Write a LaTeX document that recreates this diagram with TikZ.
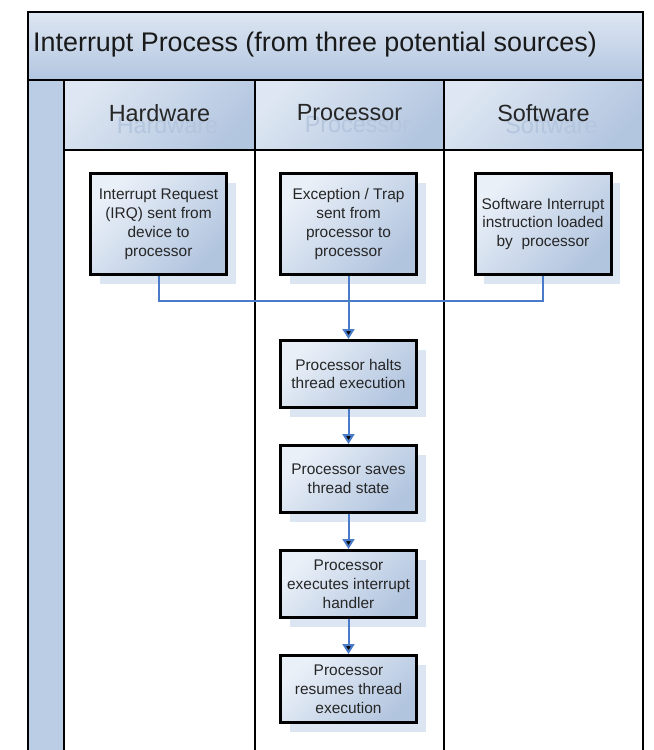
\documentclass[tikz,border=0pt]{standalone}
\usepackage{fontspec}
\setmainfont{Liberation Sans}
\usetikzlibrary{arrows,arrows.meta,positioning,shadows}

\definecolor{bandtop}{HTML}{DDE6F2}
\definecolor{bandbot}{HTML}{B3C6E0}
\definecolor{boxtop}{HTML}{EAF0F8}
\definecolor{boxbot}{HTML}{B2C5DF}
\definecolor{shadeblue}{HTML}{DCE5F2}
\definecolor{flowblue}{HTML}{4A7BC8}
\definecolor{stripblue}{HTML}{BACDE5}
\definecolor{ghost}{HTML}{B4C5DE}

\tikzset{
  band/.style={draw=black, line width=2.5bp, top color=bandtop, bottom color=bandbot},
  lanehead/.style={draw=black, line width=2.5bp, top color=bandtop, bottom color=bandbot, shading angle=45},
  lanebody/.style={draw=black, line width=2.5bp, fill=white},
  task/.style={draw=black, line width=3bp, top color=boxtop, bottom color=boxbot, shading angle=45,
    minimum width=136bp, align=center, text=black!85,
    font=\fontsize{15.5}{19}\selectfont,
    drop shadow={shadow xshift=9bp, shadow yshift=-9bp, fill=shadeblue, opacity=1}},
  tall/.style={minimum height=101bp},
  short/.style={minimum height=67bp},
  link/.style={draw=flowblue, line width=2bp},
  flowarrow/.style={link, -{Triangle[length=10bp,width=12bp]}},
  headtext/.style={font=\fontsize{23.5}{26}\selectfont, text=black!85}
}

\begin{document}
\begin{tikzpicture}[x=1bp, y=-1bp, node distance=105bp]
  \clip (0,0) rectangle (654,750);
  \fill[white] (0,0) rectangle (654,750);

  % pool and lanes
  \path[band] (28,12) rectangle (643,80);
  \node[anchor=west, inner sep=0pt, font=\fontsize{27}{30}\selectfont, text=black!90] (title) at (33,45)
    {Interrupt Process (from three potential sources)};
  \path[draw=black, line width=2.5bp, fill=stripblue] (28,80) rectangle (64,770);
  \path[lanebody] (64,150) rectangle (255,770);
  \path[lanebody] (255,150) rectangle (444,770);
  \path[lanebody] (444,150) rectangle (643,770);

  \foreach \x/\xx/\name/\lbl in {64/255/hw/Hardware, 255/444/cpu/Processor, 444/643/soft/Software} {
    \path[lanehead] (\x,80) rectangle (\xx,150);
    \begin{scope}
      \clip (\x,80) rectangle (\xx,150);
      \node[headtext, text=ghost] at ({(\x+\xx)/2+8},125) {\lbl};
    \end{scope}
    \node[headtext] (\name) at ({(\x+\xx)/2},113) {\lbl};
    \draw[line width=2.5bp] (\x,80) rectangle (\xx,150);
  }

  % tasks
  \node[task, tall] (irq) at (158.5,224) {Interrupt Request\\(IRQ) sent from\\device to\\processor};
  \node[task, tall] (exc) at (348.5,224) {Exception / Trap\\sent from\\processor to\\processor};
  \node[task, tall] (sw) at (543,224) {Software Interrupt\\instruction loaded\\by\ \ processor};
  \node[task, short] (halts) [below of=exc, node distance=150bp] {Processor halts\\thread execution};
  \node[task, short] (saves) [below of=halts] {Processor saves\\thread state};
  \node[task, short] (exe) [below of=saves] {Processor\\executes interrupt\\handler};
  \node[task, short] (resume) [below of=exe] {Processor\\resumes thread\\execution};

  \coordinate (join) at (348.5,301);
  \path[link] (irq.south) |- (join) -| (sw.south);
  \path[flowarrow]
    (exc) edge (halts)
    (halts) edge (saves)
    (saves) edge (exe)
    (exe) edge (resume)
    ;

\end{tikzpicture}
\end{document}
